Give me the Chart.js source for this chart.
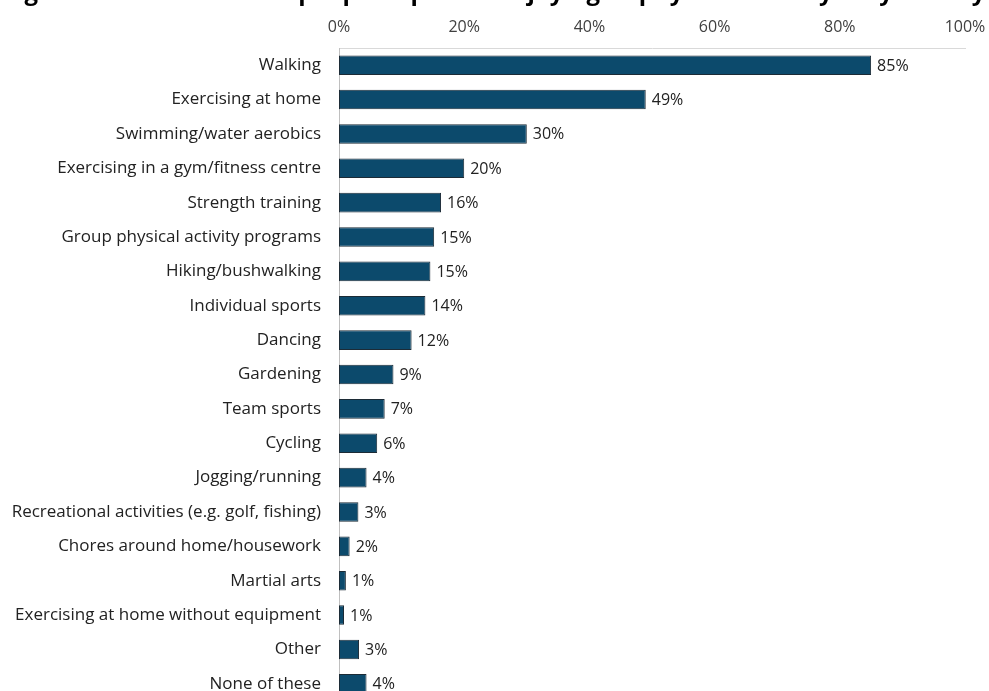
<!DOCTYPE html>
<html lang="en">
<head>
    <meta charset="UTF-8">
    <title>Physical activity types</title>
    <script src="https://cdn.jsdelivr.net/npm/chart.js"></script>
    <style>
        html, body { margin: 0; padding: 0; overflow: hidden; background: #fff; }
    </style>
</head>
<body>
    <canvas id="myChart" width="989" height="701"></canvas>

    <script>
        const categories = [
            'Walking',
            'Exercising at home',
            'Swimming/water aerobics',
            'Exercising in a gym/fitness centre',
            'Strength training',
            'Group physical activity programs',
            'Hiking/bushwalking',
            'Individual sports',
            'Dancing',
            'Gardening',
            'Team sports',
            'Cycling',
            'Jogging/running',
            'Recreational activities (e.g. golf, fishing)',
            'Chores around home/housework',
            'Martial arts',
            'Exercising at home without equipment',
            'Other',
            'None of these'
        ];
        // bar lengths (labels show the rounded value)
        const values = [85, 49, 30, 20, 16.3, 15.2, 14.6, 13.8, 11.6, 8.7, 7.3, 6.1, 4.4, 3.1, 1.7, 1.1, 0.8, 3.2, 4.4];
        const xTicks = [0, 20, 40, 60, 80, 100];
        const titleText = 'Figure 9: Activities older people reported enjoying as physical activity they usually do in a typical week';

        const fontFamily = '"Open Sans", sans-serif';

        // writes the % label at the end of each bar
        const barLabels = {
            id: 'barLabels',
            afterDatasetsDraw(chart) {
                const ctx = chart.ctx;
                const meta = chart.getDatasetMeta(0);
                ctx.save();
                ctx.font = '16px ' + fontFamily;
                ctx.fillStyle = '#222222';
                ctx.textAlign = 'left';
                ctx.textBaseline = 'middle';
                meta.data.forEach((bar, i) => {
                    ctx.fillText(Math.round(values[i]) + '%', bar.x + 6, bar.y + 1);
                });
                ctx.restore();
            }
        };

        // title sits above the page edge, only its lower part shows
        const cutTitle = {
            id: 'cutTitle',
            afterDraw(chart) {
                const ctx = chart.ctx;
                ctx.save();
                ctx.font = 'bold 24px ' + fontFamily;
                ctx.fillStyle = '#000000';
                ctx.textAlign = 'left';
                ctx.textBaseline = 'alphabetic';
                ctx.fillText(titleText, 4, 0);
                ctx.restore();
            }
        };

        const ctx = document.getElementById('myChart').getContext('2d');
        const myChart = new Chart(ctx, {
            type: 'bar',
            data: {
                labels: categories,
                datasets: [{
                    data: values,
                    backgroundColor: '#0c4a6c',
                    borderColor: '#1c2b36',
                    borderWidth: 1,
                    borderSkipped: false,
                    categoryPercentage: 1,
                    barPercentage: 0.57
                }]
            },
            options: {
                indexAxis: 'y',
                responsive: false,
                animation: false,
                layout: { padding: { left: 0, right: 24, top: 0, bottom: 0 } },
                scales: {
                    x: {
                        position: 'top',
                        min: 0,
                        max: 100,
                        afterFit: scale => {
                            scale.height = 48;
                            scale.paddingLeft = 0;
                            scale.paddingRight = 0;
                        },
                        afterBuildTicks: scale => { scale.ticks = xTicks.map(v => ({ value: v })); },
                        grid: { display: false, drawTicks: false },
                        border: { display: true, color: '#d9d9d9', width: 1 },
                        ticks: {
                            padding: 11,
                            color: '#404040',
                            font: { family: fontFamily, size: 16 },
                            callback: v => v + '%'
                        }
                    },
                    y: {
                        afterFit: scale => {
                            scale.width = 339;
                            scale.paddingTop = 0;
                            scale.paddingBottom = 0;
                        },
                        grid: { display: false, drawTicks: false },
                        border: { display: true, color: '#bfbfbf', width: 1 },
                        ticks: {
                            padding: 18,
                            color: '#222222',
                            font: { family: fontFamily, size: 17 }
                        }
                    }
                },
                plugins: {
                    legend: { display: false },
                    tooltip: { enabled: false }
                }
            },
            plugins: [barLabels, cutTitle]
        });
    </script>
</body>
</html>
